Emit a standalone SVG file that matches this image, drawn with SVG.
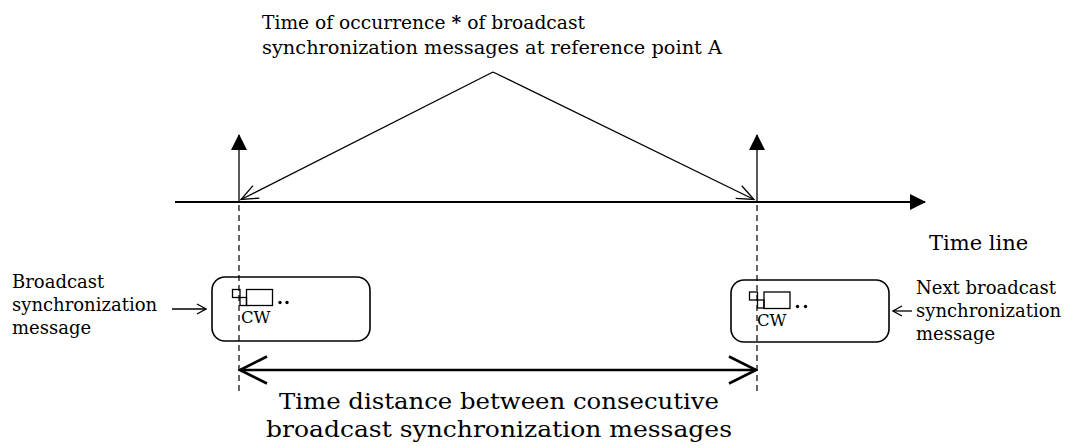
<svg xmlns="http://www.w3.org/2000/svg" width="1072" height="446" viewBox="0 0 1072 446">
<style>
.t{font-family:"DejaVu Serif","Liberation Serif",serif;fill:#000}
.ln{stroke:#000;fill:none;stroke-width:1.3}
.dash{stroke:#000;fill:none;stroke-width:1.2;stroke-dasharray:6 4}
.box{fill:#fff;stroke:#000;stroke-width:1.6}
.sq{fill:none;stroke:#000;stroke-width:1.3}
</style>
<defs>
<marker id="fill" viewBox="0 0 16 16" refX="15" refY="8" markerWidth="16" markerHeight="16" markerUnits="userSpaceOnUse" orient="auto"><path d="M0,0 L16,8 L0,16 Z" fill="#000"/></marker>
<marker id="open" viewBox="0 0 20 20" refX="18" refY="10" markerWidth="20" markerHeight="20" markerUnits="userSpaceOnUse" orient="auto"><path d="M1,3 L18,10 L1,17" fill="none" stroke="#000" stroke-width="1.3"/></marker>
<marker id="small" viewBox="0 0 12 12" refX="11" refY="6" markerWidth="12" markerHeight="12" markerUnits="userSpaceOnUse" orient="auto"><path d="M2,1 L11,6 L2,11" fill="none" stroke="#000" stroke-width="1.3"/></marker>
<marker id="big" viewBox="0 0 32 32" refX="30" refY="16" markerWidth="32" markerHeight="32" markerUnits="userSpaceOnUse" orient="auto"><path d="M3,2.5 L30,16 L3,29.5" fill="none" stroke="#000" stroke-width="2.6"/></marker>
</defs>

<g id="title">
<text class="t" x="262" y="29" font-size="18.5" textLength="323" lengthAdjust="spacingAndGlyphs">Time of occurrence <tspan font-weight="bold">*</tspan> of broadcast</text>
<text class="t" x="262" y="54" font-size="18.5" textLength="460" lengthAdjust="spacingAndGlyphs">synchronization messages at reference point A</text>
</g>

<g id="timeline-label">
<text class="t" x="929" y="250" font-size="21">Time line</text>
</g>

<g id="msg1">
<rect class="box" x="212" y="277" width="158" height="64" rx="13"/>
<rect class="sq" x="232.5" y="289.5" width="7.5" height="8"/>
<rect class="sq" x="240" y="297.5" width="6.5" height="8"/>
<rect class="sq" x="246.5" y="289.5" width="26" height="16"/>
<circle cx="280" cy="302.5" r="1.7"/>
<circle cx="287" cy="302.5" r="1.7"/>
<text class="t" x="241" y="323" font-size="16.5">CW</text>
</g>

<g id="msg2">
<rect class="box" x="731" y="280" width="158" height="62" rx="13"/>
<rect class="sq" x="749.5" y="292" width="8" height="8"/>
<rect class="sq" x="757.5" y="300" width="6.5" height="8"/>
<rect class="sq" x="764" y="292" width="26" height="16.5"/>
<circle cx="797.5" cy="306.5" r="1.7"/>
<circle cx="805.5" cy="306.5" r="1.7"/>
<text class="t" x="757" y="326" font-size="16.5">CW</text>
</g>

<g id="label-left">
<text class="t" x="12" y="288" font-size="18">Broadcast</text>
<text class="t" x="12" y="311" font-size="18">synchronization</text>
<text class="t" x="12" y="334" font-size="18">message</text>
</g>

<g id="label-right">
<text class="t" x="916" y="294" font-size="18">Next broadcast</text>
<text class="t" x="916" y="317" font-size="18">synchronization</text>
<text class="t" x="916" y="340" font-size="18">message</text>
</g>

<g id="distance-label">
<text class="t" x="279" y="409" font-size="23" textLength="440" lengthAdjust="spacingAndGlyphs">Time distance between consecutive</text>
<text class="t" x="266" y="437" font-size="23" textLength="466" lengthAdjust="spacingAndGlyphs">broadcast synchronization messages</text>
</g>

<g id="connectors">
<line x1="175" y1="202" x2="925" y2="202" stroke="#000" stroke-width="2" marker-end="url(#fill)"/>
<line class="ln" x1="239" y1="202" x2="239" y2="135" marker-end="url(#fill)"/>
<line class="ln" x1="757" y1="202" x2="757" y2="135" marker-end="url(#fill)"/>
<line class="dash" x1="239" y1="205" x2="239" y2="392"/>
<line class="dash" x1="757" y1="205" x2="757" y2="392"/>
<line class="ln" x1="493" y1="72" x2="241" y2="199.5" marker-end="url(#open)"/>
<line class="ln" x1="493" y1="72" x2="754" y2="199.5" marker-end="url(#open)"/>
<line x1="172" y1="309" x2="206" y2="309" class="ln" marker-end="url(#small)"/>
<line x1="912" y1="311" x2="893" y2="311" class="ln" marker-end="url(#small)"/>
<line x1="498" y1="370" x2="240" y2="370" stroke="#000" stroke-width="2.6" marker-end="url(#big)"/>
<line x1="498" y1="370" x2="756" y2="370" stroke="#000" stroke-width="2.6" marker-end="url(#big)"/>
</g>
</svg>
